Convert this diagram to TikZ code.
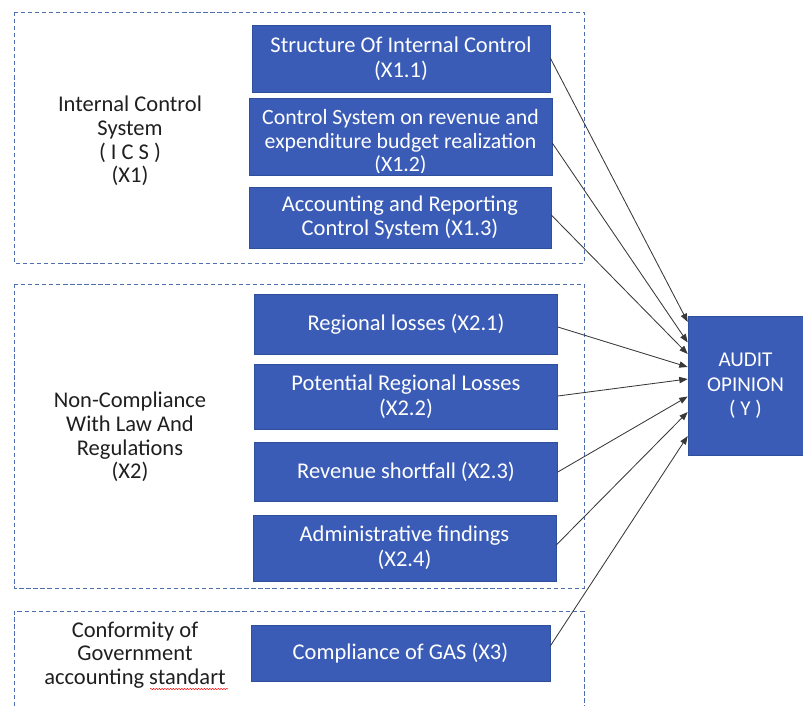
\documentclass[tikz,border=0pt]{standalone}
\usepackage{fontspec}
\setmainfont{Carlito}
\usetikzlibrary{arrows.meta,decorations.pathmorphing}
\definecolor{boxblue}{HTML}{3A5CB6}
\definecolor{boxedge}{HTML}{2F4F9A}
\definecolor{dashblue}{HTML}{4F6DAE}
\definecolor{arrgray}{HTML}{383838}
\begin{document}
\begin{tikzpicture}[x=0.025cm,y=-0.025cm,
  varbox/.style 2 args={draw=boxedge, line width=0.4pt, fill=boxblue, text=white,
    align=center, inner sep=0pt, font=\fontsize{16}{17.5}\selectfont,
    minimum width=#1*0.025cm, minimum height=#2*0.025cm},
  grp/.style={draw=dashblue, line width=0.6pt, dash pattern=on 3pt off 2pt},
  lbl/.style={align=center, text=black!88, inner sep=0pt, font=\fontsize{16}{16.8}\selectfont},
  arr/.style={draw=arrgray, line width=0.6pt, -{Triangle[length=6pt,width=4.5pt]}}]
\useasboundingbox (0,0) rectangle (803,705);

% dashed groups
\draw[grp] (14,12) rectangle (584,263);
\draw[grp] (14,284) rectangle (584,588);
\draw[grp] (14,720) -- (14,611) -- (584,611) -- (584,720);

% left labels
\node[lbl] (L1) at (130,141) {Internal Control\\System\\( I C S )\\(X1)};
\node[lbl] (L2) at (130,437) {Non-Compliance\\With Law And\\Regulations\\(X2)};
\node[lbl] (L3) at (135,655) {Conformity of\\Government\\accounting standart};
\draw[red, line width=0.35pt, decorate, decoration={snake, amplitude=0.45pt, segment length=2pt}]
  (150,689) -- (228,689);

% variable boxes
\node[varbox={298}{67}] (X11) at (401,58.5) {Structure Of Internal Control\\(X1.1)};
\node[varbox={303}{77}] (X12) at (400.5,137) {};
\begin{scope}
  \clip (X12.north west) rectangle ([yshift=2.5pt]X12.south east);
  \node[align=center, text=white, inner sep=0pt, font=\fontsize{15.5}{16.7}\selectfont] (X12t) at (400.5,142)
    {Control System on revenue and\\expenditure budget realization\\(X1.2)};
\end{scope}
\node[varbox={302}{61}] (X13) at (400,217.5) {Accounting and Reporting\\Control System (X1.3)};
\node[varbox={303}{60}] (X21) at (406,324) {Regional losses (X2.1)};
\node[varbox={303}{65}] (X22) at (406,396.5) {Potential Regional Losses\\(X2.2)};
\node[varbox={303}{59}] (X23) at (406,471.5) {Revenue shortfall (X2.3)};
\node[varbox={303}{66}] (X24) at (404.5,548) {Administrative findings\\(X2.4)};
\node[varbox={299}{56}] (X3) at (400.5,653) {Compliance of GAS (X3)};
\node[varbox={115}{139}, font=\fontsize{15}{17.4}\selectfont] (Y) at (745.5,386) {AUDIT\\OPINION\\( Y )};

% connectors
\draw[arr] (X11.east |- 0,58)  -- (Y.west |- 0,322);
\draw[arr] (X12.east |- 0,143) -- (Y.west |- 0,342.5);
\draw[arr] (X13.east |- 0,215) -- (Y.west |- 0,354);
\draw[arr] (X21.east |- 0,327) -- (Y.west |- 0,367);
\draw[arr] (X22.east |- 0,396) -- (Y.west |- 0,379);
\draw[arr] (X23.east |- 0,472) -- (Y.west |- 0,396.5);
\draw[arr] (X24.east |- 0,545) -- (Y.west |- 0,412);
\draw[arr] (X3.east |- 0,646)  -- (Y.west |- 0,436);
\end{tikzpicture}
\end{document}
